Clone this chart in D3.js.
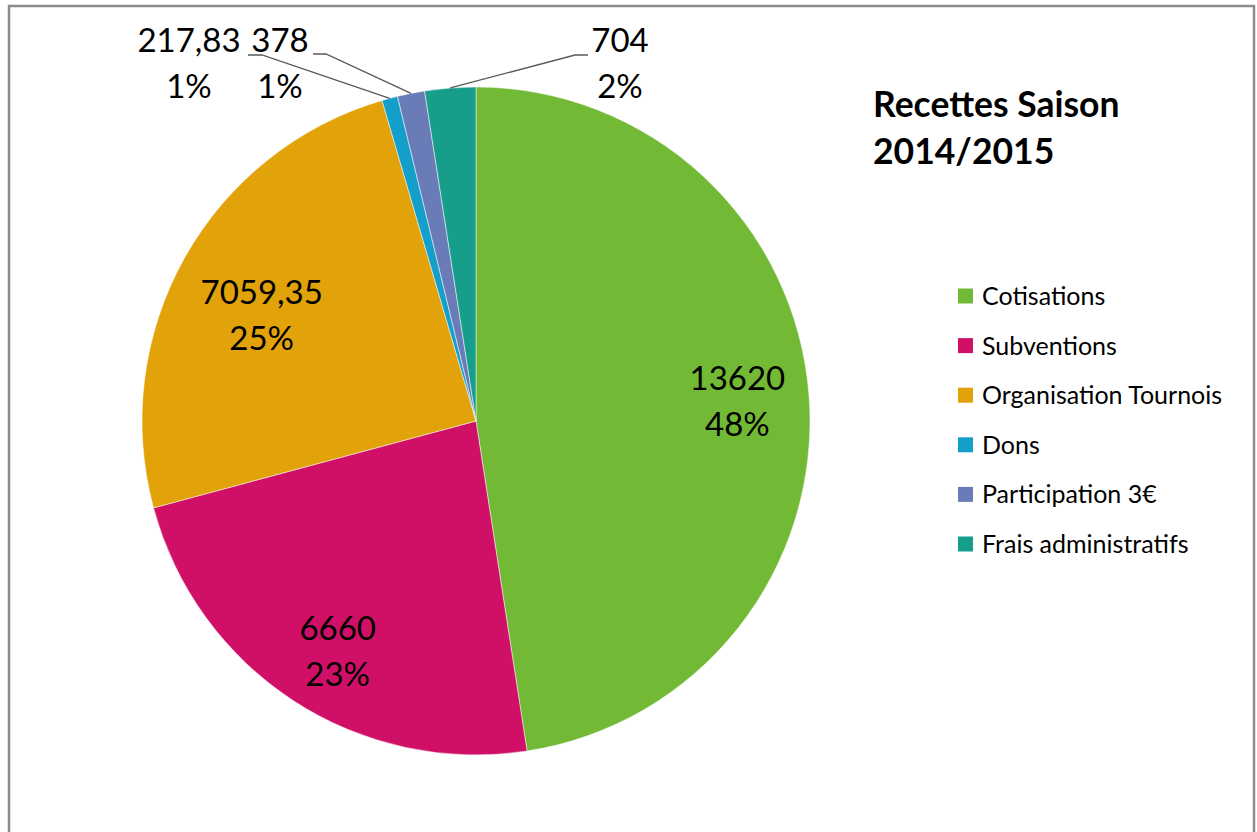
<!DOCTYPE html>
<html><head><meta charset="utf-8">
<script src="https://cdn.jsdelivr.net/npm/d3@7"></script>
<style>html,body{margin:0;padding:0;background:#fff;}svg{display:block;}</style>
</head><body>
<svg id="c" width="1257" height="832"></svg>
<script>
const categories = ["Cotisations","Subventions","Organisation Tournois","Dons","Participation 3€","Frais administratifs"];
const values = [13620, 6660, 7059.35, 217.83, 378, 704];
const valueLabels = ["13620","6660","7059,35","217,83","378","704"];
const percentLabels = ["48%","23%","25%","1%","1%","2%"];
const colors = ["#72b935","#d01067","#e2a209","#139fc9","#6a7cb8","#179e8b"];
const titleLines = ["Recettes Saison","2014/2015"];

const svg = d3.select("#c");
const font = "Lato, 'Open Sans', sans-serif";

// frame
svg.append("rect").attr("x",9).attr("y",6).attr("width",1245).attr("height",900)
  .attr("fill","#fff").attr("stroke","#8c8c8c").attr("stroke-width",2.5);

const cx = 476, cy = 421, R = 334;
const g = svg.append("g").attr("transform",`translate(${cx},${cy})`);
const pie = d3.pie().sort(null).value(d=>d.v);
const data = categories.map((c,i)=>({c, v:values[i], i}));
const arcs = pie(data);
const arc = d3.arc().innerRadius(0).outerRadius(R);
g.selectAll("path.slice").data(arcs).join("path").attr("class","slice")
  .attr("d",arc).attr("fill",d=>colors[d.data.i]).attr("stroke","#fff").attr("stroke-width",0.5);

// inside labels (best-fit style nudges, layout only)
const nudge = {0:[5,0], 1:[2,15], 2:[10,20]};
const total = d3.sum(values);
const inside = arcs.filter(d=>d.value/total > 0.05);
inside.forEach(d=>{
  const a = (d.startAngle+d.endAngle)/2;
  const rl = 0.77*R;
  const n = nudge[d.data.i] || [0,0];
  const x = rl*Math.sin(a)+n[0], y = -rl*Math.cos(a)+n[1];
  const t = g.append("text").attr("text-anchor","middle").attr("font-family",font)
    .attr("font-size",33).attr("fill","#000");
  t.append("tspan").attr("x",x).attr("y",y-11.5).text(valueLabels[d.data.i]);
  t.append("tspan").attr("x",x).attr("y",y+34.5).text(percentLabels[d.data.i]);
});

// outside labels with leader lines
const outside = arcs.filter(d=>d.value/total <= 0.05);
const outPos = [{x:189, segStart:248, segEnd:262, ly:55},
                {x:280, segStart:313, segEnd:326, ly:54},
                {x:620, segStart:588, segEnd:575, ly:55}];
outside.forEach((d,k)=>{
  const p = outPos[k];
  const a = (d.startAngle+d.endAngle)/2;
  const ex = cx + R*Math.sin(a), ey = cy - R*Math.cos(a);
  svg.append("polyline").attr("points",`${p.segStart},${p.ly} ${p.segEnd},${p.ly} ${ex},${ey}`)
    .attr("fill","none").attr("stroke","#595959").attr("stroke-width",1.3);
  const t = svg.append("text").attr("text-anchor","middle").attr("font-family",font)
    .attr("font-size",33).attr("fill","#000");
  t.append("tspan").attr("x",p.x).attr("y",52).text(valueLabels[d.data.i]);
  t.append("tspan").attr("x",p.x).attr("y",98).text(percentLabels[d.data.i]);
});

// title
const tt = svg.append("text").attr("font-family",font).attr("font-weight","bold")
  .attr("font-size",35.5).attr("fill","#000");
titleLines.forEach((s,i)=>tt.append("tspan").attr("x",873).attr("y",117+i*47).text(s));

// legend
const lg = svg.append("g");
categories.forEach((c,i)=>{
  const y = 296 + i*49.6;
  lg.append("rect").attr("x",958).attr("y",y-7.5).attr("width",15).attr("height",15).attr("fill",colors[i]);
  lg.append("text").attr("x",982).attr("y",y+9).attr("font-family",font).attr("font-size",25)
    .attr("fill","#000").text(c);
});
</script>
</body></html>
